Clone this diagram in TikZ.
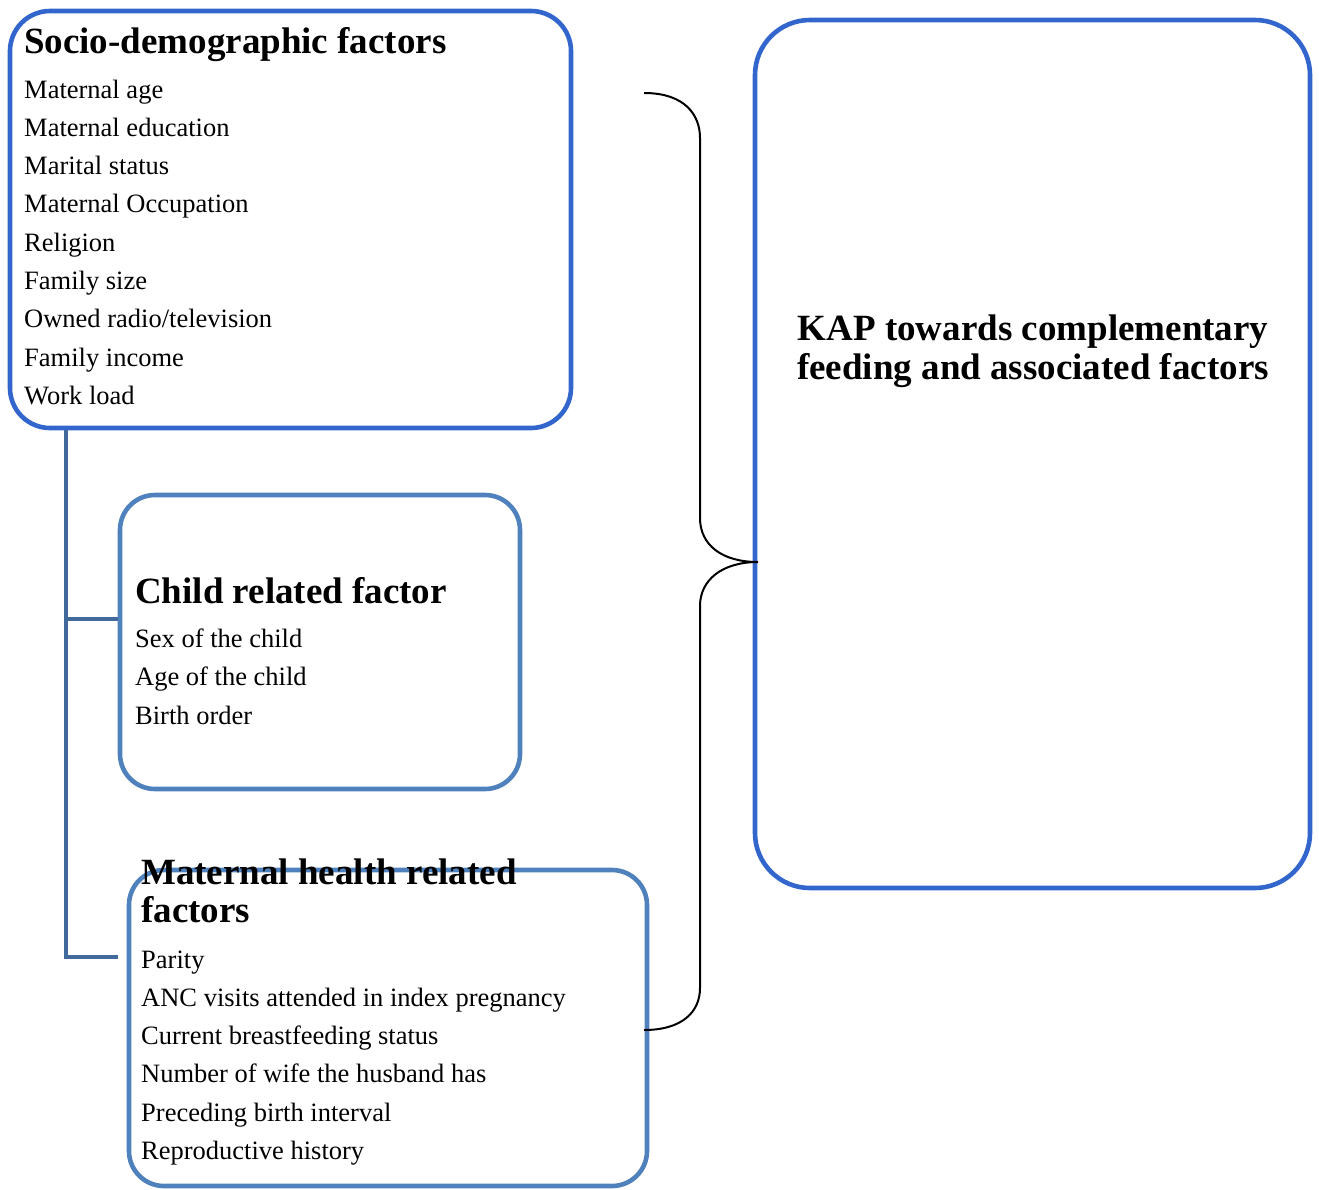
\documentclass[tikz,border=0pt]{standalone}
\usepackage{fontspec}
\setmainfont{Liberation Serif}
\definecolor{bluebright}{HTML}{3366CC}
\definecolor{bluesteel}{HTML}{4F81BD}
\definecolor{blueline}{HTML}{41699B}
\tikzset{
  bigbox/.style={draw=bluebright, line width=4.6pt, rounded corners=40pt, inner sep=0pt},
  smallbox/.style={draw=bluesteel, line width=4.6pt, rounded corners=35pt, inner sep=0pt},
  head/.style={anchor=base west, inner sep=0pt, font=\fontsize{37}{38}\selectfont\bfseries},
  item/.style={anchor=base west, inner sep=0pt, font=\fontsize{26.5}{38}\selectfont},
  kaptext/.style={anchor=base, inner sep=0pt, font=\fontsize{37}{38}\selectfont\bfseries},
  linker/.style={draw=blueline, line width=4pt},
  brace/.style={draw=black, line width=2pt}
}
\begin{document}
\begin{tikzpicture}[x=1pt,y=-1pt]
\useasboundingbox (0,0) rectangle (1319,1189);
% boxes
\node[bigbox, minimum width=561pt, minimum height=417pt] (socio) at (290.5,219.5) {};
\node[smallbox, minimum width=400pt, minimum height=294pt] (child) at (320,642) {};
\node[smallbox, minimum width=518pt, minimum height=316pt] (mat) at (388,1028) {};
\node[bigbox, rounded corners=55pt, minimum width=555pt, minimum height=868pt] (kap) at (1032.5,454) {};
% left connector
\coordinate (j) at (66,957);
\coordinate (mend) at (118,957);
\draw[linker] (j |- socio.south) -- (j) -- (mend);
\draw[linker] ([yshift=23pt]child.west -| j) -- ([yshift=23pt]child.west);
% brace
\coordinate (btop) at (644,93);
\coordinate (bbot) at (644,1030);
\coordinate (btip) at (758,562);
\draw[brace] (btop) .. controls (685,93) and (700,115) .. (700,138) -- (700,518)
  .. controls (700,545) and (722,562) .. (btip)
  .. controls (722,562) and (700,580) .. (700,606) -- (700,988)
  .. controls (700,1012) and (682,1030) .. (bbot);
% socio text
\node[head] (sh) at (24,53) {Socio-demographic factors};
\node[item] (s1) at (24,98) {Maternal age};
\node[item] (s2) at (24,136.3) {Maternal education};
\node[item] (s3) at (24,174.6) {Marital status};
\node[item] (s4) at (24,212.9) {Maternal Occupation};
\node[item] (s5) at (24,251.2) {Religion};
\node[item] (s6) at (24,289.5) {Family size};
\node[item] (s7) at (24,327.8) {Owned radio/television};
\node[item] (s8) at (24,366.1) {Family income};
\node[item] (s9) at (24,404.4) {Work load};
% child text
\node[head] (ch) at (135,603) {Child related factor};
\node[item] (c1) at (135,647) {Sex of the child};
\node[item] (c2) at (135,685.5) {Age of the child};
\node[item] (c3) at (135,724) {Birth order};
% maternal text
\node[head] (mh1) at (141,884) {Maternal health related};
\node[head] (mh2) at (141,922) {factors};
\node[item] (m1) at (141,968) {Parity};
\node[item] (m2) at (141,1006.3) {ANC visits attended in index pregnancy};
\node[item] (m3) at (141,1044.6) {Current breastfeeding status};
\node[item] (m4) at (141,1082.9) {Number of wife the husband has};
\node[item] (m5) at (141,1121.2) {Preceding birth interval};
\node[item] (m6) at (141,1159.5) {Reproductive history};
% KAP text
\node[kaptext] (k1) at (1033,340) {KAP towards complementary};
\node[kaptext] (k2) at (1033,379) {feeding and associated factors};
\end{tikzpicture}
\end{document}
